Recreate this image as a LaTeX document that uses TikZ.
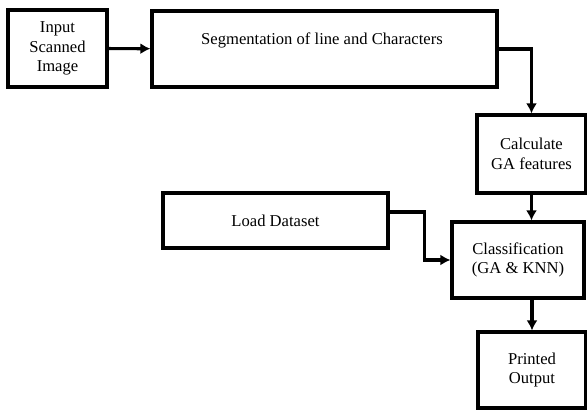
\documentclass[tikz,border=0pt]{standalone}
\usepackage{fontspec}
\setmainfont{Liberation Serif}
\usetikzlibrary{arrows.meta}

\begin{document}
\begin{tikzpicture}[x=1pt, y=-1pt,
    block/.style={draw, line width=3.2pt, align=center, inner sep=0pt,
      font=\fontsize{16.6}{19.5}\selectfont},
    flow/.style={line width=3.2pt, -{Latex[length=10pt,width=11pt]}}]
    \useasboundingbox (0,0) rectangle (587,412);
    % boxes of the pipeline
    \node[block, minimum width=99pt, minimum height=77pt] (input) at (57.5,48.5) {Input\\Scanned\\Image};
    \node[block, minimum width=345pt, minimum height=76pt] (seg) at (324.5,49) {};
    \node[font=\fontsize{16.6}{19.5}\selectfont] (segtext) at (322,40) {Segmentation of line and Characters};
    \node[block, minimum width=109pt, minimum height=78pt] (calc) at (531.5,154) {Calculate\\GA features};
    \node[block, minimum width=225pt, minimum height=55pt] (load) at (275.5,220.5) {Load Dataset};
    \node[block, minimum width=132pt, minimum height=76pt] (cls) at (518,260) {Classification\\(GA \& KNN)};
    \node[block, minimum width=108pt, minimum height=76pt] (out) at (532,370) {Printed\\Output};
    % connectors
    \draw[flow] (input) -- (seg);
    \draw[flow] (seg.east) -| (calc.north);
    \draw[flow] (calc.south) -- (calc.south |- cls.north);
    \draw[flow] ([yshift=8.5pt]load.east) -- ++(35,0) |- (cls.west);
    \draw[flow] (cls.south -| out.north) -- (out.north);
\end{tikzpicture}
\end{document}
